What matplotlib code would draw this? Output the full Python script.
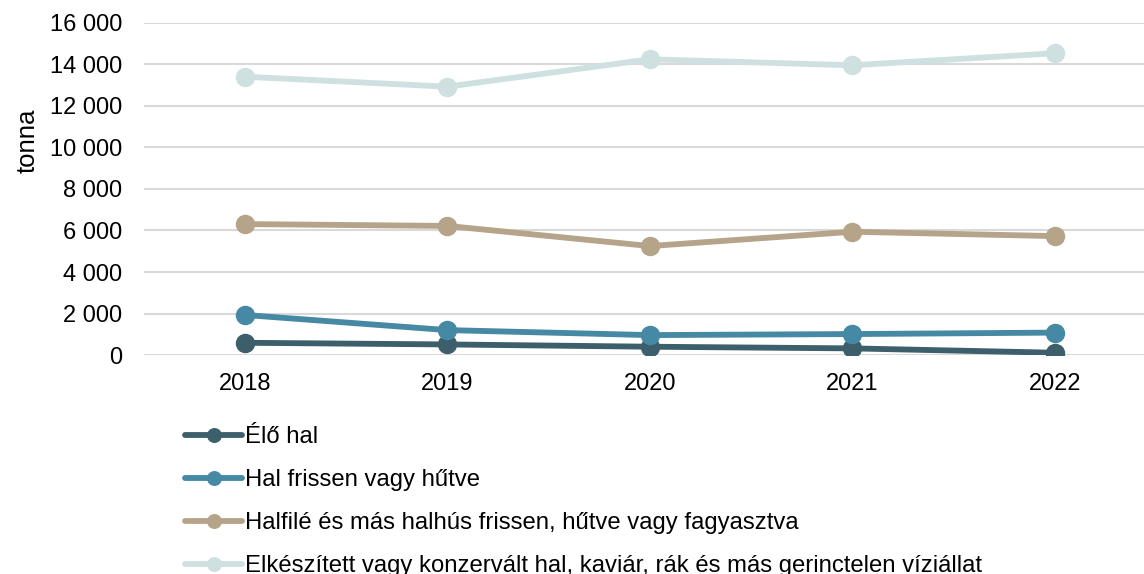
import matplotlib.pyplot as plt
from matplotlib.ticker import FuncFormatter

plt.rcParams['font.family'] = ['Liberation Sans', 'DejaVu Sans']

years = ["2018", "2019", "2020", "2021", "2022"]

elo_hal = [590, 510, 400, 320, 110]
hal_friss = [1930, 1200, 960, 1010, 1080]
halfile = [6310, 6220, 5250, 5940, 5730]
elkeszitett = [13410, 12930, 14250, 13960, 14540]

series_names = [
    "Élő hal",
    "Hal frissen vagy hűtve",
    "Halfilé és más halhús frissen, hűtve vagy fagyasztva",
    "Elkészített vagy konzervált hal, kaviár, rák és más gerinctelen víziállat",
]
colors = ["#3D5F6B", "#4589A5", "#B5A48A", "#CFE0E0"]

fig = plt.figure(figsize=(11.44, 5.74), dpi=100)
ax = fig.add_axes([0.1256, 0.3815, 0.885, 0.5785])

x = range(len(years))
for vals, name, col in zip([elo_hal, hal_friss, halfile, elkeszitett], series_names, colors):
    ax.plot(x, vals, color=col, lw=4.2, marker="o", markersize=13,
            solid_capstyle="round", label=name)

ax.set_xlim(-0.5, 4.5)
ax.set_ylim(0, 16000)
ax.set_yticks(range(0, 16001, 2000))
ax.yaxis.set_major_formatter(FuncFormatter(lambda v, p: f"{int(v):,}".replace(",", " ")))
ax.set_xticks(list(x))
ax.set_xticklabels(years)
ax.tick_params(axis="both", length=0, labelsize=17)
ax.tick_params(axis="x", pad=13)
ax.tick_params(axis="y", pad=15.5)
ax.grid(axis="y", color="#D9D9D9", lw=1.5)
ax.set_axisbelow(True)
for s in ax.spines.values():
    s.set_visible(False)

fig.text(0.024, 0.754, "tonna", rotation=90, ha="center", va="center", fontsize=18.5)

fig.legend(loc="upper left", bbox_to_anchor=(0.1617, 0.2575), frameon=False,
           fontsize=17.2, handlelength=2.4, handletextpad=0.1,
           labelspacing=0.88, borderpad=0, borderaxespad=0, markerscale=0.75)

fig.savefig("out.png", dpi=100)
